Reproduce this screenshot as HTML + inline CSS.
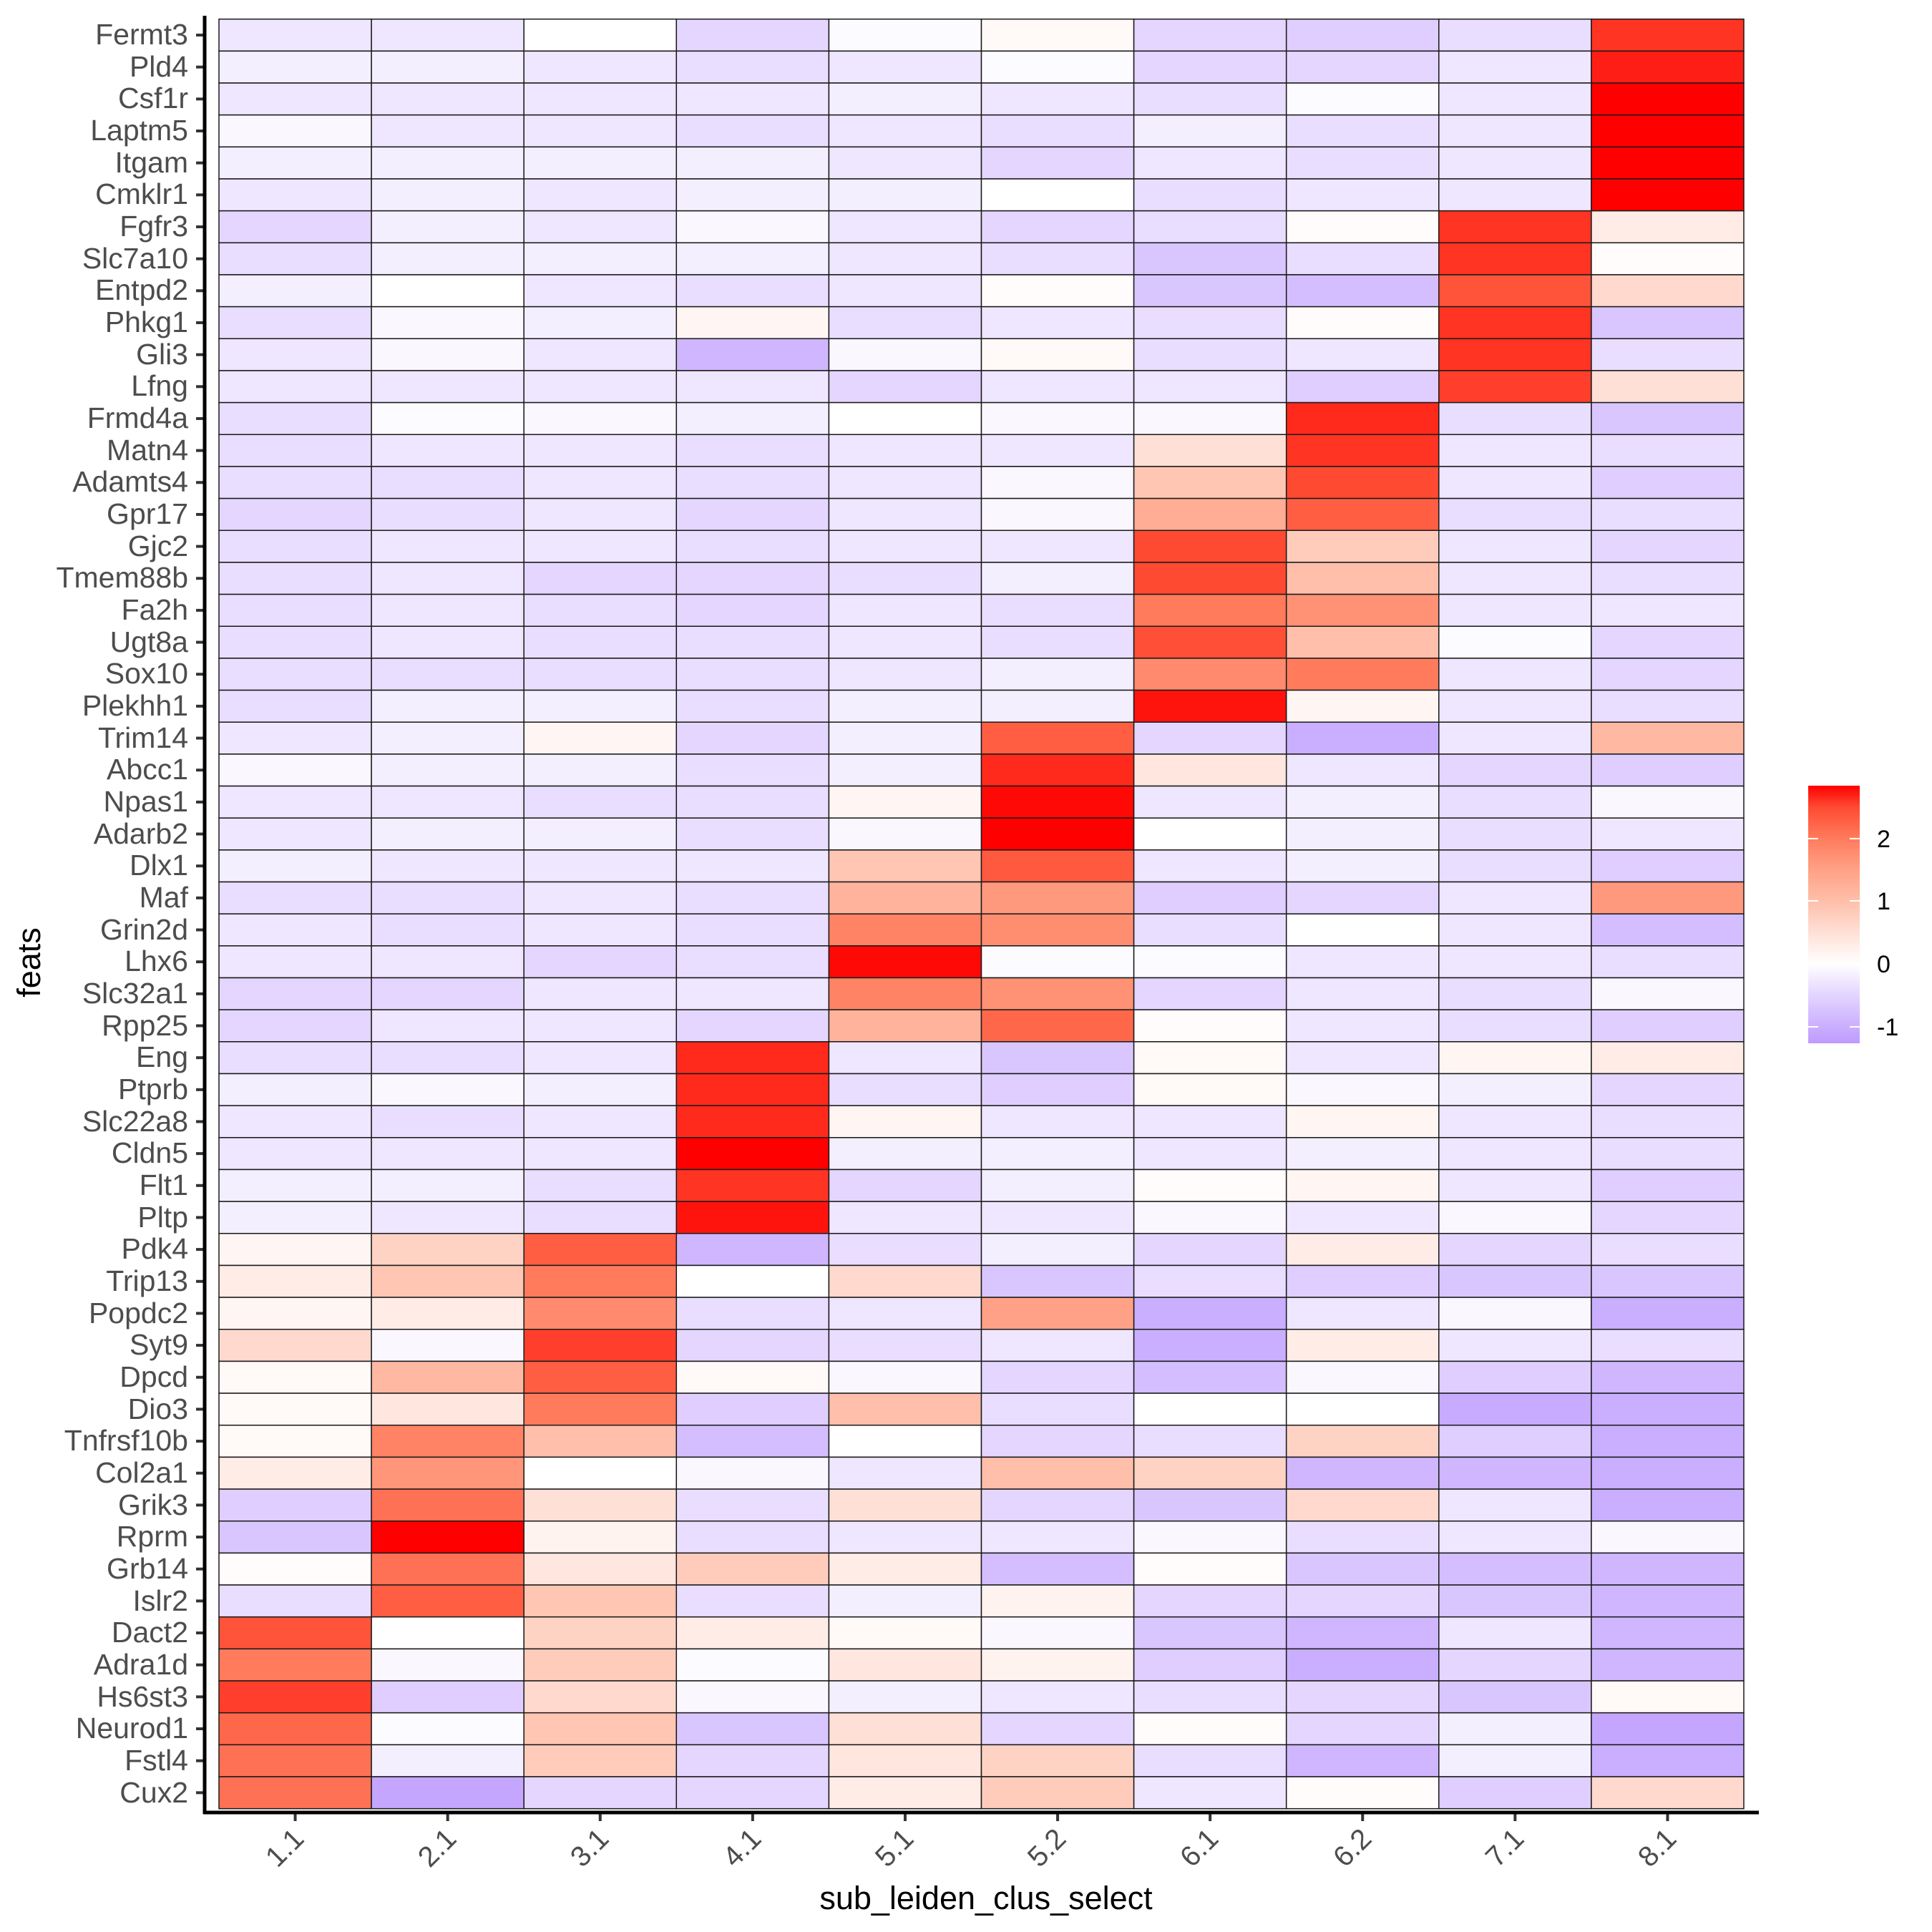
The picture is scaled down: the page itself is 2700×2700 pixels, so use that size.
<!DOCTYPE html>
<html><head><meta charset="utf-8"><style>
html,body{margin:0;padding:0;background:#fff;}
svg{display:block;font-family:"Liberation Sans",sans-serif;}
</style></head><body>
<svg id="s" width="2700" height="2700" viewBox="0 0 2700 2700" xmlns="http://www.w3.org/2000/svg">
<defs><linearGradient id="cb" x1="0" y1="1" x2="0" y2="0">
<stop offset="0" stop-color="#BE9AFF"/>
<stop offset="0.0634" stop-color="#CAAEFF"/>
<stop offset="0.1902" stop-color="#E4D6FF"/>
<stop offset="0.3073" stop-color="#FFFFFF"/>
<stop offset="0.4293" stop-color="#FFE0D6"/>
<stop offset="0.5512" stop-color="#FFBFAA"/>
<stop offset="0.6732" stop-color="#FFA186"/>
<stop offset="0.7951" stop-color="#FF7B5C"/>
<stop offset="0.9171" stop-color="#FF4A32"/>
<stop offset="1" stop-color="#FF0000"/>
</linearGradient></defs>
<g id="cells"></g>
<g id="ticks" stroke="#333" stroke-width="4"></g>
<line x1="286" y1="22" x2="286" y2="2535" stroke="#000" stroke-width="5"/>
<line x1="284" y1="2533" x2="2458" y2="2533" stroke="#000" stroke-width="5"/>
<g font-size="41" fill="#4D4D4D" text-anchor="end" id="ylab">
<text x="263" y="62">Fermt3</text><text x="263" y="107">Pld4</text><text x="263" y="151">Csf1r</text><text x="263" y="196">Laptm5</text><text x="263" y="241">Itgam</text><text x="263" y="285">Cmklr1</text><text x="263" y="330">Fgfr3</text><text x="263" y="375">Slc7a10</text><text x="263" y="419">Entpd2</text><text x="263" y="464">Phkg1</text><text x="263" y="509">Gli3</text><text x="263" y="553">Lfng</text><text x="263" y="598">Frmd4a</text><text x="263" y="643">Matn4</text><text x="263" y="687">Adamts4</text><text x="263" y="732">Gpr17</text><text x="263" y="777">Gjc2</text><text x="263" y="821">Tmem88b</text><text x="263" y="866">Fa2h</text><text x="263" y="911">Ugt8a</text><text x="263" y="955">Sox10</text><text x="263" y="1000">Plekhh1</text><text x="263" y="1045">Trim14</text><text x="263" y="1089">Abcc1</text><text x="263" y="1134">Npas1</text><text x="263" y="1179">Adarb2</text><text x="263" y="1223">Dlx1</text><text x="263" y="1268">Maf</text><text x="263" y="1313">Grin2d</text><text x="263" y="1357">Lhx6</text><text x="263" y="1402">Slc32a1</text><text x="263" y="1447">Rpp25</text><text x="263" y="1491">Eng</text><text x="263" y="1536">Ptprb</text><text x="263" y="1581">Slc22a8</text><text x="263" y="1625">Cldn5</text><text x="263" y="1670">Flt1</text><text x="263" y="1715">Pltp</text><text x="263" y="1759">Pdk4</text><text x="263" y="1804">Trip13</text><text x="263" y="1849">Popdc2</text><text x="263" y="1893">Syt9</text><text x="263" y="1938">Dpcd</text><text x="263" y="1983">Dio3</text><text x="263" y="2027">Tnfrsf10b</text><text x="263" y="2072">Col2a1</text><text x="263" y="2117">Grik3</text><text x="263" y="2161">Rprm</text><text x="263" y="2206">Grb14</text><text x="263" y="2251">Islr2</text><text x="263" y="2295">Dact2</text><text x="263" y="2340">Adra1d</text><text x="263" y="2385">Hs6st3</text><text x="263" y="2429">Neurod1</text><text x="263" y="2474">Fstl4</text><text x="263" y="2519">Cux2</text>
</g>
<g font-size="40" fill="#4D4D4D" text-anchor="end">
<text transform="translate(427,2572) rotate(-45)">1.1</text>
<text transform="translate(640,2572) rotate(-45)">2.1</text>
<text transform="translate(853,2572) rotate(-45)">3.1</text>
<text transform="translate(1066,2572) rotate(-45)">4.1</text>
<text transform="translate(1279,2572) rotate(-45)">5.1</text>
<text transform="translate(1492,2572) rotate(-45)">5.2</text>
<text transform="translate(1705,2572) rotate(-45)">6.1</text>
<text transform="translate(1919,2572) rotate(-45)">6.2</text>
<text transform="translate(2132,2572) rotate(-45)">7.1</text>
<text transform="translate(2345,2572) rotate(-45)">8.1</text>
</g>
<text x="1378" y="2668" font-size="45" text-anchor="middle" fill="#000">sub_leiden_clus_select</text>
<text transform="translate(56,1345) rotate(-90)" font-size="45" text-anchor="middle" fill="#000">feats</text>
<rect x="2527" y="1098" width="72" height="360" fill="url(#cb)"/>
<g stroke="#fff" stroke-width="2">
<line x1="2527" y1="1172" x2="2541" y2="1172"/><line x1="2585" y1="1172" x2="2599" y2="1172"/>
<line x1="2527" y1="1259" x2="2541" y2="1259"/><line x1="2585" y1="1259" x2="2599" y2="1259"/>
<line x1="2527" y1="1347" x2="2541" y2="1347"/><line x1="2585" y1="1347" x2="2599" y2="1347"/>
<line x1="2527" y1="1435" x2="2541" y2="1435"/><line x1="2585" y1="1435" x2="2599" y2="1435"/>
</g>
<g font-size="34" fill="#000">
<text x="2623" y="1184">2</text><text x="2623" y="1271">1</text><text x="2623" y="1359">0</text><text x="2623" y="1447">-1</text>
</g>
</svg>
<script>
var D=[
[-0.3,-0.3,0.0,-0.5,-0.05,0.1,-0.5,-0.6,-0.4,2.6],
[-0.2,-0.2,-0.3,-0.4,-0.3,-0.05,-0.5,-0.5,-0.3,2.7],
[-0.3,-0.3,-0.3,-0.3,-0.2,-0.3,-0.4,-0.05,-0.3,2.84],
[-0.1,-0.3,-0.3,-0.4,-0.3,-0.4,-0.2,-0.4,-0.3,2.84],
[-0.2,-0.2,-0.2,-0.2,-0.3,-0.5,-0.3,-0.4,-0.3,2.84],
[-0.3,-0.2,-0.3,-0.2,-0.2,0.0,-0.4,-0.3,-0.3,2.84],
[-0.5,-0.2,-0.3,-0.1,-0.3,-0.5,-0.4,0.05,2.6,0.3],
[-0.4,-0.2,-0.2,-0.2,-0.3,-0.4,-0.7,-0.4,2.6,0.05],
[-0.2,0.0,-0.3,-0.4,-0.3,0.05,-0.7,-0.8,2.4,0.6],
[-0.4,-0.1,-0.2,0.15,-0.4,-0.3,-0.4,0.05,2.6,-0.7],
[-0.3,-0.1,-0.3,-0.9,-0.1,0.1,-0.4,-0.3,2.6,-0.4],
[-0.3,-0.3,-0.3,-0.3,-0.5,-0.3,-0.3,-0.6,2.55,0.5],
[-0.4,-0.05,-0.1,-0.2,0.0,-0.1,-0.1,2.65,-0.4,-0.7],
[-0.4,-0.3,-0.3,-0.4,-0.3,-0.3,0.5,2.6,-0.3,-0.4],
[-0.4,-0.4,-0.3,-0.4,-0.3,-0.1,0.9,2.5,-0.3,-0.6],
[-0.5,-0.4,-0.3,-0.5,-0.3,-0.1,1.3,2.3,-0.4,-0.4],
[-0.4,-0.3,-0.3,-0.4,-0.3,-0.3,2.5,0.8,-0.3,-0.5],
[-0.4,-0.3,-0.5,-0.5,-0.4,-0.2,2.5,1.0,-0.3,-0.4],
[-0.4,-0.3,-0.4,-0.5,-0.3,-0.4,2.0,1.7,-0.3,-0.3],
[-0.4,-0.3,-0.4,-0.4,-0.3,-0.4,2.45,1.0,-0.05,-0.5],
[-0.4,-0.4,-0.4,-0.4,-0.3,-0.2,1.8,2.0,-0.3,-0.5],
[-0.4,-0.2,-0.2,-0.4,-0.2,-0.2,2.75,0.15,-0.3,-0.4],
[-0.3,-0.2,0.15,-0.5,-0.2,2.3,-0.5,-1.0,-0.3,1.1],
[-0.1,-0.2,-0.2,-0.4,-0.2,2.65,0.4,-0.3,-0.5,-0.6],
[-0.3,-0.3,-0.4,-0.4,0.15,2.8,-0.3,-0.2,-0.4,-0.1],
[-0.3,-0.2,-0.2,-0.4,-0.1,2.84,0.0,-0.2,-0.4,-0.3],
[-0.2,-0.3,-0.3,-0.3,0.9,2.35,-0.3,-0.2,-0.4,-0.6],
[-0.4,-0.4,-0.3,-0.4,1.2,1.6,-0.6,-0.5,-0.3,1.6],
[-0.3,-0.4,-0.3,-0.4,1.9,1.75,-0.4,0.0,-0.3,-0.8],
[-0.3,-0.3,-0.5,-0.4,2.8,-0.05,-0.05,-0.3,-0.3,-0.4],
[-0.5,-0.5,-0.3,-0.3,1.9,1.7,-0.5,-0.3,-0.4,-0.1],
[-0.5,-0.3,-0.3,-0.5,1.2,2.2,0.05,-0.3,-0.4,-0.6],
[-0.4,-0.4,-0.3,2.65,-0.3,-0.7,0.1,-0.3,0.15,0.3],
[-0.2,-0.1,-0.2,2.65,-0.4,-0.6,0.1,-0.1,-0.2,-0.5],
[-0.3,-0.4,-0.3,2.65,0.15,-0.3,-0.3,0.15,-0.3,-0.4],
[-0.3,-0.3,-0.3,2.84,-0.2,-0.2,-0.3,-0.2,-0.3,-0.4],
[-0.2,-0.2,-0.4,2.6,-0.5,-0.2,0.05,0.15,-0.3,-0.6],
[-0.2,-0.3,-0.4,2.75,-0.3,-0.3,-0.1,-0.3,-0.1,-0.5],
[0.15,0.7,2.3,-0.9,-0.4,-0.2,-0.5,0.3,-0.5,-0.4],
[0.3,0.9,2.0,0.0,0.6,-0.7,-0.4,-0.6,-0.7,-0.7],
[0.15,0.3,1.8,-0.4,-0.3,1.5,-1.0,-0.3,-0.1,-1.0],
[0.6,-0.1,2.55,-0.5,-0.4,-0.3,-1.0,0.3,-0.3,-0.4],
[0.1,1.1,2.3,0.1,-0.1,-0.5,-0.8,-0.1,-0.6,-0.9],
[0.1,0.4,2.0,-0.6,1.0,-0.4,0.0,0.0,-1.05,-1.0],
[0.1,1.9,1.0,-0.8,0.0,-0.5,-0.4,0.7,-0.6,-1.0],
[0.3,1.65,0.0,-0.1,-0.3,1.0,0.7,-0.9,-0.9,-1.0],
[-0.6,2.1,0.5,-0.4,0.5,-0.5,-0.7,0.6,-0.3,-1.0],
[-0.7,2.84,0.2,-0.4,-0.3,-0.3,-0.1,-0.4,-0.3,-0.1],
[0.05,2.1,0.4,0.8,0.3,-0.8,0.05,-0.7,-0.8,-0.9],
[-0.4,2.3,0.9,-0.4,-0.2,0.2,-0.5,-0.5,-0.7,-0.9],
[2.4,0.0,0.7,0.3,0.1,-0.1,-0.7,-0.9,-0.3,-0.9],
[2.0,-0.1,0.8,-0.05,0.4,0.2,-0.6,-1.0,-0.5,-0.9],
[2.55,-0.6,0.6,-0.1,-0.2,-0.3,-0.4,-0.5,-0.7,0.1],
[2.2,-0.05,0.9,-0.7,0.5,-0.5,0.05,-0.5,-0.2,-1.1],
[2.1,-0.2,0.8,-0.5,0.4,0.7,-0.4,-0.9,-0.2,-1.0],
[2.1,-1.1,-0.5,-0.5,0.3,0.8,-0.3,0.05,-0.6,0.6]];
var S=[[-1.26,[190,154,255]],[-1,[202,174,255]],[-0.5,[228,214,255]],[0,[255,255,255]],[0.5,[255,224,214]],[1,[255,191,170]],[1.5,[255,161,134]],[2,[255,123,92]],[2.5,[255,74,50]],[2.84,[255,0,0]]];
function col(v){if(v<=S[0][0])v=S[0][0];if(v>=2.84)v=2.84;for(var i=0;i<S.length-1;i++){var a=S[i],b=S[i+1];if(v>=a[0]&&v<=b[0]){var t=(v-a[0])/(b[0]-a[0]);var c=a[1].map(function(x,k){return Math.round(x+(b[1][k]-x)*t)});return"rgb("+c.join(",")+")";}}return"#fff";}
var ns="http://www.w3.org/2000/svg",g=document.getElementById("cells"),tk=document.getElementById("ticks");
var X0=306,Y0=26.7,W=213.1,H=44.66;
for(var r=0;r<56;r++)for(var c=0;c<10;c++){var e=document.createElementNS(ns,"rect");e.setAttribute("x",X0+c*W);e.setAttribute("y",Y0+r*H);e.setAttribute("width",W);e.setAttribute("height",H);e.setAttribute("fill",col(D[r][c]));e.setAttribute("stroke","#1a1a1a");e.setAttribute("stroke-width","1.5");g.appendChild(e);}
for(var r=0;r<56;r++){var l=document.createElementNS(ns,"line");var y=Y0+(r+0.5)*H;l.setAttribute("x1",274);l.setAttribute("x2",286);l.setAttribute("y1",y);l.setAttribute("y2",y);tk.appendChild(l);}
for(var c=0;c<10;c++){var l=document.createElementNS(ns,"line");var x=X0+(c+0.5)*W;l.setAttribute("x1",x);l.setAttribute("x2",x);l.setAttribute("y1",2533);l.setAttribute("y2",2545);tk.appendChild(l);}
</script>
</body></html>
